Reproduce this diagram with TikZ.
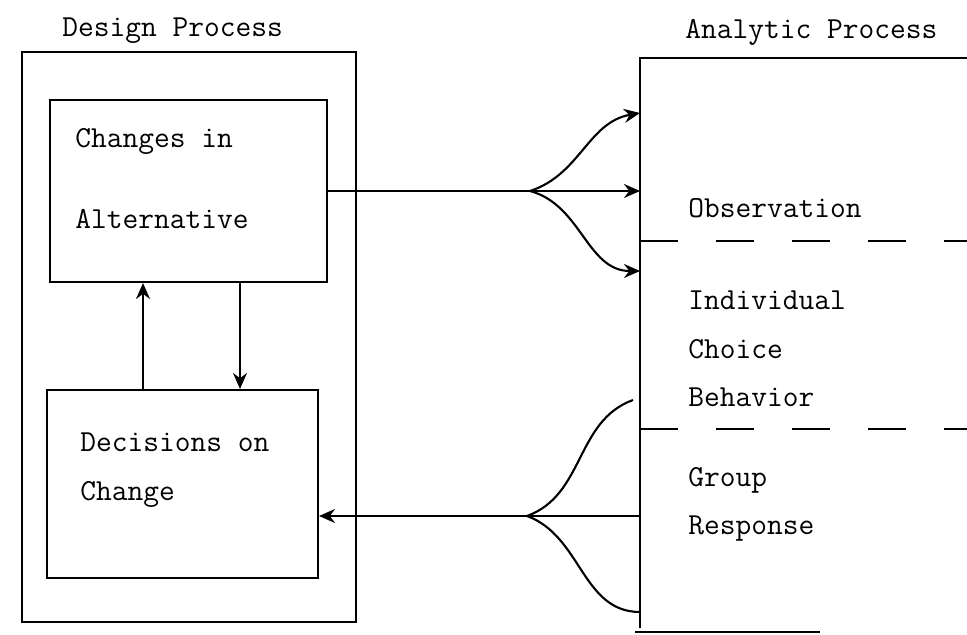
\documentclass[tikz,border=0pt]{standalone}
\usetikzlibrary{arrows.meta}

\tikzset{
  box/.style={draw, line width=1.2pt, inner sep=0pt},
  lbl/.style={anchor=base west, inner sep=0pt, font=\ttfamily\fontsize{17.4}{20}\selectfont},
  link/.style={line width=1.2pt},
  tip/.style={-{Stealth[length=3.2mm, width=2.8mm]}},
}

\begin{document}
\begin{tikzpicture}[x=0.02cm, y=-0.02cm]
    \useasboundingbox (0,0) rectangle (967,635);

    % design side
    \node[box, minimum width=6.68cm, minimum height=11.4cm] (design) at (189,337) {};
    \node[box, minimum width=5.54cm, minimum height=3.64cm] (changes) at (188.5,191) {};
    \node[box, minimum width=5.42cm, minimum height=3.76cm] (decisions) at (182.5,484) {};

    \node[lbl] (tDesign) at (62,37) {Design Process};
    \node[lbl] (tChanges) at (75,148) {Changes in};
    \node[lbl] (tAlt) at (75,228) {Alternative};
    \node[lbl] (tDecisions) at (80,451) {Decisions on};
    \node[lbl] (tChange) at (80,500) {Change};

    % analytic side
    \draw[link] (967,58) -- (640,58) -- (640,628);
    \draw[link] (635,632) -- (820,632);
    \draw[link, dash pattern=on 0.76cm off 0.76cm] (640,241) -- (967,241);
    \draw[link, dash pattern=on 0.76cm off 0.76cm] (640,429) -- (967,429);

    \node[lbl] (tAnalytic) at (685,39) {Analytic Process};
    \node[lbl] (tObs) at (688,217) {Observation};
    \node[lbl] (tInd) at (688,309) {Individual};
    \node[lbl] (tChoice) at (688,358) {Choice};
    \node[lbl] (tBeh) at (688,406) {Behavior};
    \node[lbl] (tGroup) at (688,486) {Group};
    \node[lbl] (tResp) at (688,534) {Response};

    % links between the boxes
    \draw[link, tip] (decisions.north -| 143,0) -- (changes.south -| 143,0);
    \draw[link, tip] (changes.south -| 240,0) -- (decisions.north -| 240,0);

    % out to the analytic process
    \coordinate (obs) at (640,191);
    \coordinate (fanA) at (530,191);
    \coordinate (obsTop) at (640,113);
    \coordinate (obsLow) at (640,271);
    \draw[link, tip] (changes.east) -- (obs);
    \draw[link, tip] (fanA) to[out=18, in=190] (obsTop);
    \draw[link, tip] (fanA) to[out=-15, in=180] (obsLow);

    % back to the design process
    \coordinate (resp) at (640,516);
    \coordinate (fanB) at (527,516);
    \coordinate (respTop) at (633,400);
    \coordinate (respLow) at (640,612);
    \draw[link, tip] (resp) -- (decisions.east |- resp);
    \draw[link] (fanB) to[out=20, in=200] (respTop);
    \draw[link] (fanB) to[out=-20, in=180] (respLow);
\end{tikzpicture}
\end{document}
